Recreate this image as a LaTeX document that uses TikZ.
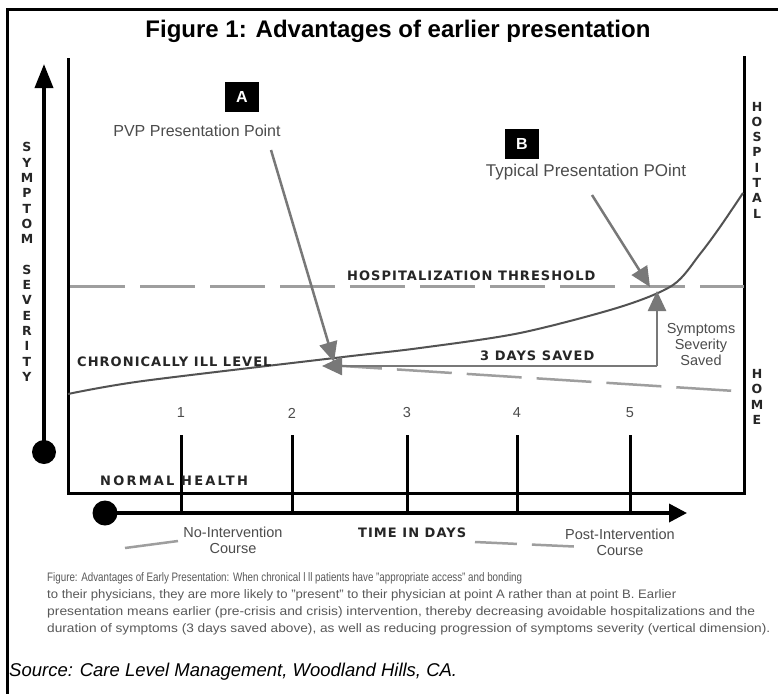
\documentclass[tikz,border=0pt]{standalone}
\usepackage{fontspec}
\usepackage{graphicx}
\setmainfont{Liberation Sans}
\newfontfamily\lab[LetterSpace=8]{DejaVu Sans}
\newfontfamily\labwide[LetterSpace=17]{DejaVu Sans}
\newfontfamily\vfont{DejaVu Sans}
\usetikzlibrary{arrows.meta}
\definecolor{arrowgray}{gray}{0.47}
\definecolor{dashgray}{gray}{0.62}
\definecolor{curvegray}{gray}{0.32}
\definecolor{textgray}{gray}{0.3}
\definecolor{capgray}{gray}{0.35}
\newcommand{\capfit}[2]{\resizebox{#1}{\height}{#2}}
\begin{document}
\begin{tikzpicture}[x=1pt,y=-1pt,
  frameline/.style={line width=3pt, black},
  axisline/.style={line width=3.5pt, black},
  bigdot/.style={circle, fill=black, inner sep=0pt, minimum size=#1},
  garrow/.style={draw=arrowgray, line width=2.5pt, -{Triangle[length=20pt,width=18pt]}},
  thresh/.style={draw=dashgray, line width=3pt, dash pattern=on 55pt off 15pt},
  glabel/.style={text=textgray, font=\fontsize{14.5}{16}\selectfont, inner sep=0pt},
  blabel/.style={font=\lab\bfseries\fontsize{13}{15}\selectfont, inner sep=0pt, anchor=west, text=black!85},
  vlet/.style={font=\vfont\bfseries\fontsize{12.5}{15.3}\selectfont, align=center, inner sep=0pt, text=black!85},
  boxlabel/.style={fill=black, text=white, minimum width=34pt, minimum height=30pt, inner sep=0pt, font=\bfseries\fontsize{16}{18}\selectfont},
  capline/.style={anchor=west, inner sep=0pt, text=capgray, font=\fontsize{12.3}{13}\selectfont}
]
\useasboundingbox (0,0) rectangle (778,693);
\fill[white] (0,0) rectangle (778,693);
% outer frame
\coordinate (fbl) at (7,694);
\coordinate (ftl) at (7,10);
\coordinate (ftr) at (779,10);
\draw[frameline] (fbl) -- (ftl) -- (ftr);
% title
\node[font=\bfseries\fontsize{24}{28}\selectfont] (title) at (398,31) {Figure 1: Advantages of earlier presentation};
% chart frame
\coordinate (cl) at (68,58);
\coordinate (cbl) at (68,493);
\coordinate (cbr) at (744,493);
\coordinate (cr) at (744,56);
\draw[frameline] (cl) -- (cbl) -- (cbr) -- (cr);
% y axis
\node[bigdot=24pt] (ydot) at (44,452) {};
\coordinate (ytop) at (44,64);
\draw[axisline, -{Triangle[length=24pt,width=18pt]}] (ydot.center) -- (ytop);
\node[vlet] (sym) at (27,262) {S\\Y\\M\\P\\T\\O\\M\\[15.3pt]S\\E\\V\\E\\R\\I\\T\\Y};
\node[vlet] (hosp) at (757,160) {H\\O\\S\\P\\I\\T\\A\\L};
\node[vlet] (home) at (757,397) {H\\O\\M\\E};
% time axis
\node[bigdot=25pt] (tdot) at (105,513) {};
\coordinate (tend) at (687,513);
\draw[axisline, -{Triangle[length=18pt,width=18pt]}] (tdot.center) -- (tend);
\foreach \x/\n in {181/1,292/2,407/3,517/4,630/5}{
  \coordinate (tk\n t) at (\x,435);
  \coordinate (tk\n b) at (\x,513);
  \draw[frameline] (tk\n t) -- (tk\n b);
  \node[glabel] (num\n) at (\x,413) {\n};
}
% threshold
\coordinate (thl) at (70,286);
\coordinate (thr) at (744,286);
\draw[thresh] (thl) -- (thr);
\node[blabel] (htxt) at (347,276) {HOSPITALIZATION THRESHOLD};
% post-intervention dashed course inside chart
\coordinate (pl) at (327,365);
\coordinate (pr) at (735,391);
\draw[draw=dashgray, line width=2.5pt, dash pattern=on 55pt off 15pt] (pl) -- (pr);
% curve
\draw[curvegray, line width=2pt] plot[smooth, tension=0.5] coordinates {(68,394) (143,381) (343,357) (420,348) (520,333) (620,307) (673,285) (700,254) (720,227) (743,193)};
\node[blabel] (chr) at (77,362) {CHRONICALLY ILL LEVEL};
% box A and arrow
\node[boxlabel] (boxA) at (242,97) {A};
\node[glabel, font=\fontsize{16}{18}\selectfont] (pvp) at (197,131) {PVP Presentation Point};
\coordinate (aS) at (271,150);
\coordinate (aE) at (334,362);
\draw[garrow] (aS) -- (aE);
% box B and arrow
\node[boxlabel] (boxB) at (522,144) {B};
\node[glabel, font=\fontsize{17}{19}\selectfont] (typ) at (586,172) {Typical Presentation POint};
\coordinate (bS) at (592,195);
\coordinate (bE) at (650,287);
\draw[garrow] (bS) -- (bE);
% 3 days saved
\coordinate (dC) at (657,366);
\coordinate (dL) at (322,366);
\coordinate (dU) at (657,291);
\draw[garrow] (dC) -- (dL);
\draw[garrow] (dC) -- (dU);
\node[blabel] (days) at (480,356) {3 DAYS SAVED};
\node[glabel, align=center] (sss) at (701,345) {Symptoms\\Severity\\Saved};
% normal health & time label
\node[blabel, font=\labwide\bfseries\fontsize{13}{15}\selectfont] (nh) at (100,481) {NORMAL HEALTH};
\node[blabel] (tid) at (358,533) {TIME IN DAYS};
% course labels
\node[glabel, align=center] (noint) at (233,540) {No-Intervention\\Course};
\node[glabel, align=center] (postint) at (620,542) {Post-Intervention\\Course};
\coordinate (ldA) at (125,548);
\coordinate (ldB) at (178,541);
\draw[draw=dashgray, line width=2.5pt] (ldA) -- (ldB);
\coordinate (rdA) at (475,542);
\coordinate (rdB) at (585,547);
\draw[draw=dashgray, line width=2.5pt, dash pattern=on 42pt off 15pt] (rdA) -- (rdB);
% caption
\node[capline] (cap1) at (47,578) {\capfit{475pt}{Figure: Advantages of Early Presentation: When chronical l ll patients have "appropriate access" and bonding}};
\node[capline] (cap2) at (47,595) {\capfit{629pt}{to their physicians, they are more likely to "present" to their physician at point A rather than at point B. Earlier}};
\node[capline] (cap3) at (47,612) {\capfit{708pt}{presentation means earlier (pre-crisis and crisis) intervention, thereby decreasing avoidable hospitalizations and the}};
\node[capline] (cap4) at (47,629) {\capfit{723pt}{duration of symptoms (3 days saved above), as well as reducing progression of symptoms severity (vertical dimension).}};
\node[anchor=west, inner sep=0pt, font=\itshape\fontsize{18.5}{20}\selectfont] (src) at (9,672) {Source: Care Level Management, Woodland Hills, CA.};
\end{tikzpicture}
\end{document}
